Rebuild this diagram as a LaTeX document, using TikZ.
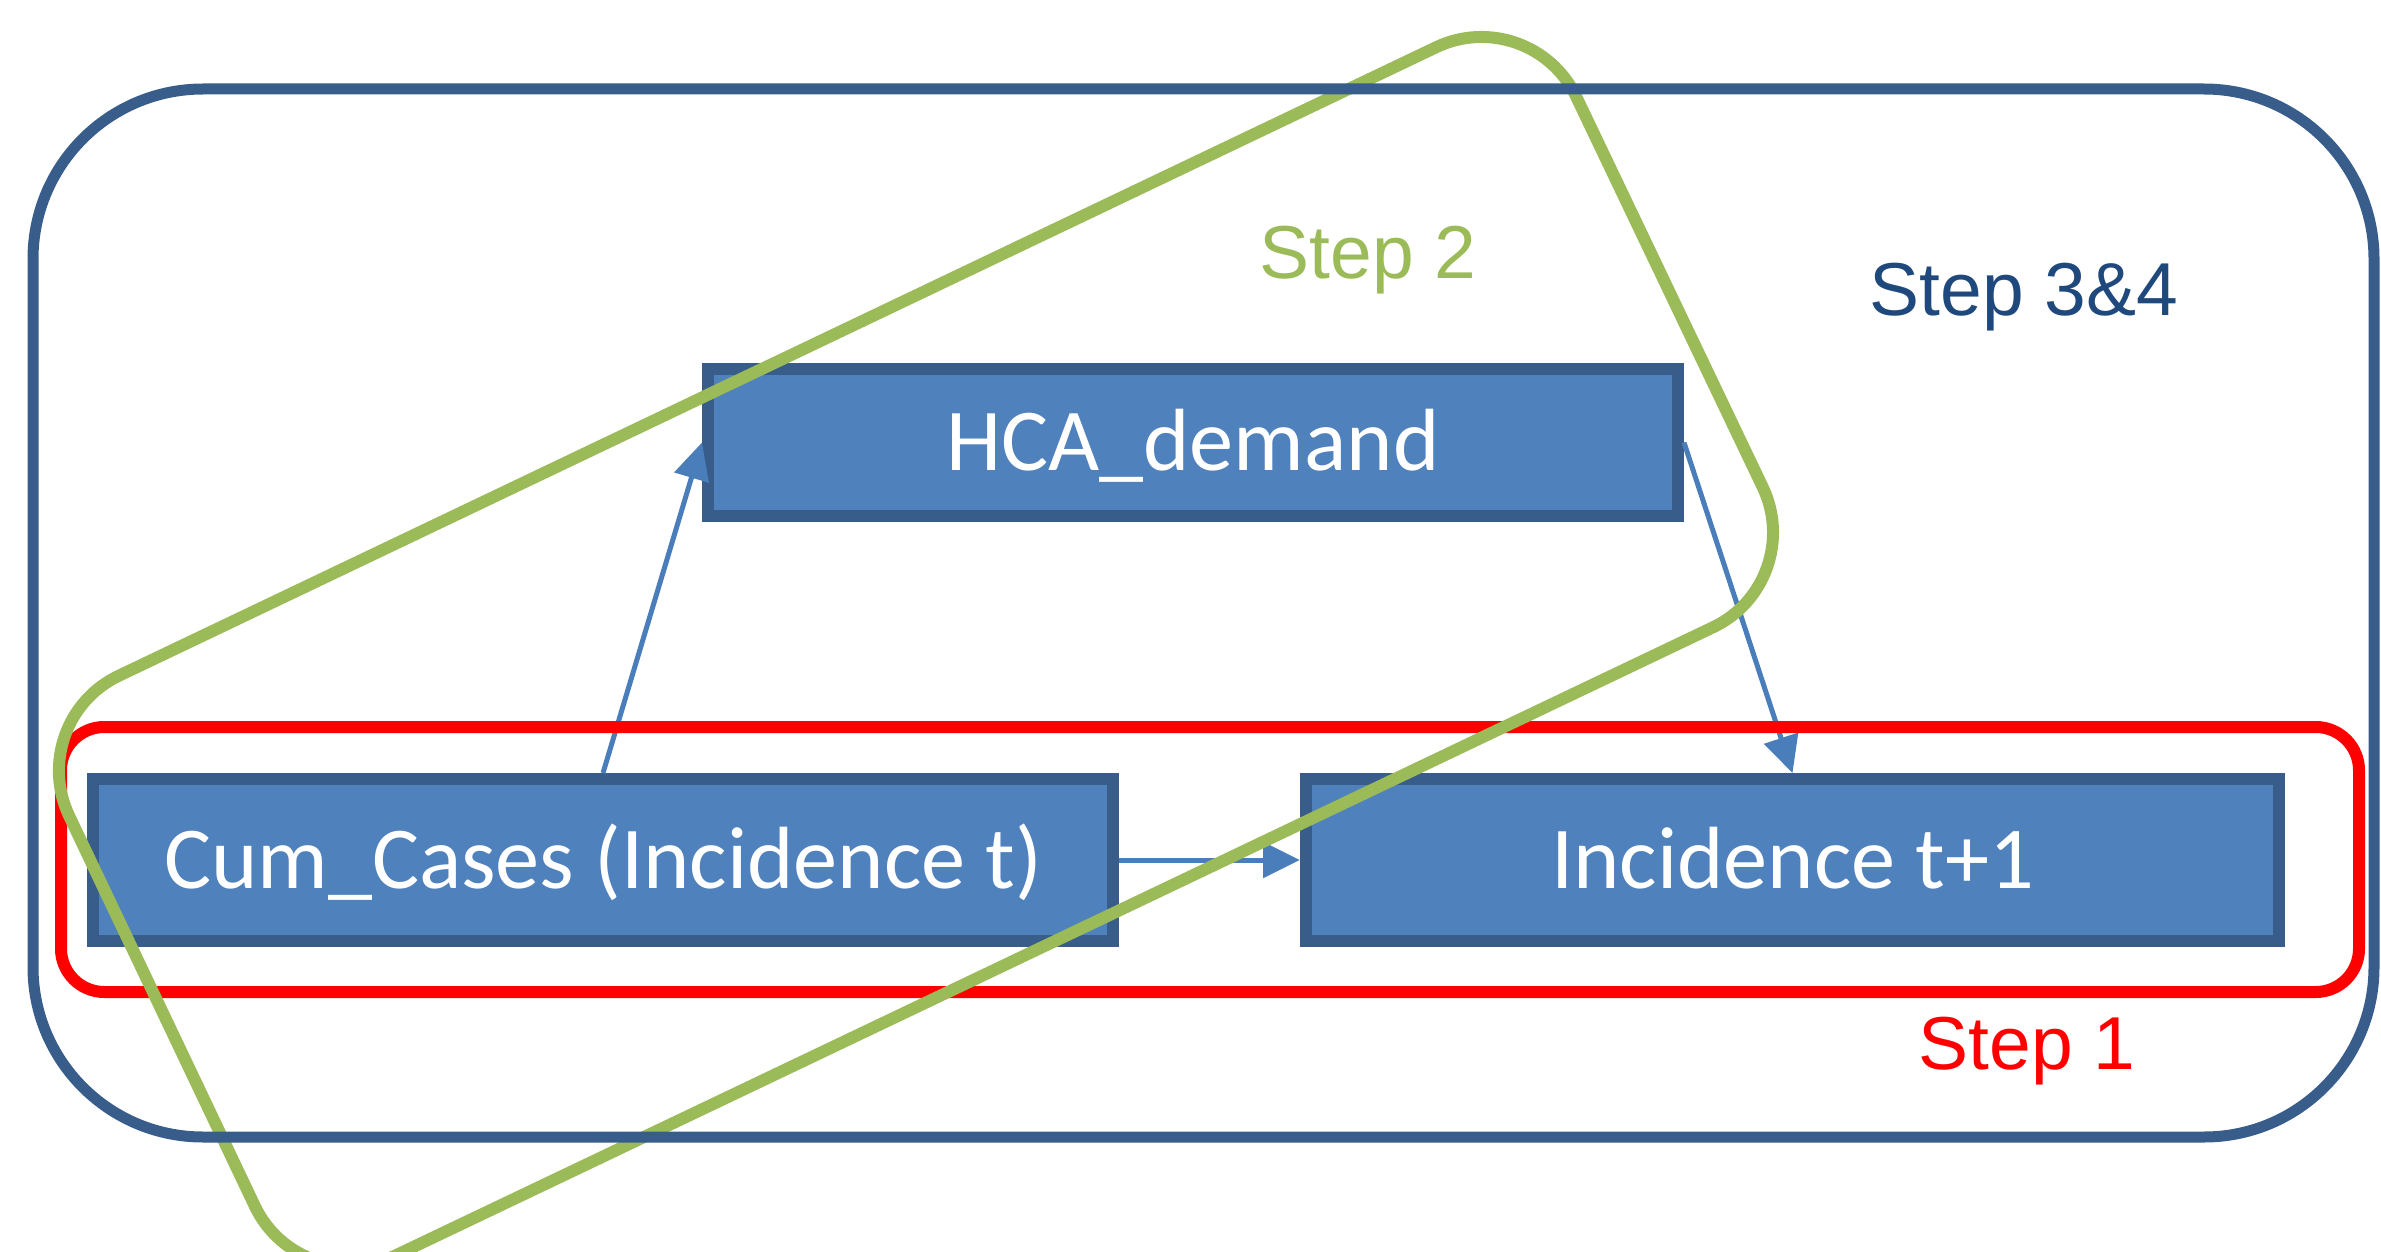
\documentclass[tikz,border=0pt]{standalone}
\usepackage{fontspec}
\setmainfont{Liberation Sans}
\newfontfamily\calibri{Carlito}
\usetikzlibrary{arrows.meta}

\definecolor{boxfill}{HTML}{4F81BD}
\definecolor{boxline}{HTML}{385D8A}
\definecolor{linkblue}{HTML}{4A7EBB}
\definecolor{stepgreen}{HTML}{9BBB59}
\definecolor{stepnavy}{HTML}{1F497D}

\tikzset{
  varbox/.style={draw=boxline, fill=boxfill, line width=3.6pt, inner sep=0pt,
    text=white, font=\calibri\fontsize{26.5}{30}\selectfont,
    text height=17pt, text depth=0pt},
  link/.style={draw=linkblue, line width=1.5pt, -{Triangle[length=11pt,width=10.5pt]}},
  steplabel/.style={inner sep=0pt, font=\fontsize{22.5}{27}\selectfont,
    text height=16.1pt, text depth=0pt},
  groupline/.style={line width=3.6pt, rounded corners=#1},
}

\begin{document}
\begin{tikzpicture}[x=0.3pt,y=0.3pt,yscale=-1]
\useasboundingbox (0,0) rectangle (2381,1252);
\clip (0,0) rectangle (2381,1252);

% Variable boxes
\node[varbox, minimum width=291pt, minimum height=44.1pt] (hca) at (1193,442.5) {HCA\_demand};
\node[varbox, minimum width=306pt, minimum height=48.6pt] (cum) at (603,860) {Cum\_Cases (Incidence t)};
\node[varbox, minimum width=292pt, minimum height=48.6pt] (inc) at (1792.5,860) {Incidence t+1};

% Links
\draw[link] (cum.north) -- (hca.west);
\draw[link] (hca.east) -- (inc.north);
\draw[link] (cum.east) -- (inc.west);

%Shape: Rounded Rectangle (step 1)
\draw[groupline=13pt, red] (61,727) rectangle (2359,992);
%Shape: Rotated Rounded Rectangle (step 2)
\draw[groupline=31.5pt, stepgreen] (777.5,361.5) -- (1531,2) -- (1808,582) -- (300,1301) -- (24,721) -- cycle;
%Shape: Rounded Rectangle (steps 3 and 4)
\draw[groupline=51pt, boxline, line width=3.3pt] (33,89) rectangle (2374,1137);

% Text Node
\node[steplabel, text=stepgreen] (step2) at (1368,252) {Step 2};
% Text Node
\node[steplabel, text=stepnavy] (step34) at (2024,289) {Step 3\&4};
% Text Node
\node[steplabel, text=red] (step1) at (2027,1043) {Step 1};
\end{tikzpicture}
\end{document}
